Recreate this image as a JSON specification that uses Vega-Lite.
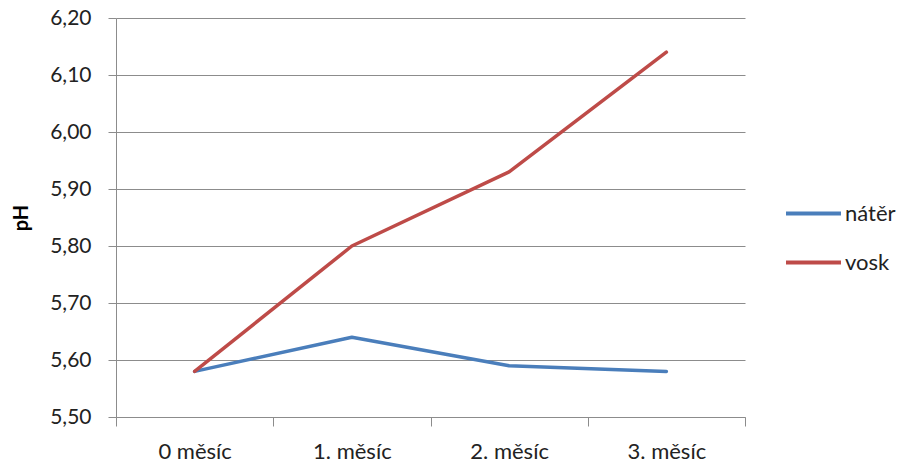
{
  "$schema": "https://vega.github.io/schema/vega-lite/v6.json",
  "width": 629,
  "height": 399,
  "autosize": {"type": "none"},
  "padding": {"left": 116, "top": 18, "right": 160, "bottom": 48},
  "background": "white",
  "config": {
    "view": {"stroke": null},
    "font": "Lato",
    "axis": {"labelFont": "Lato", "titleFont": "Lato", "labelColor": "#222222", "titleColor": "#000000"}
  },
  "data": {
    "values": [
      {"mesic": "0 měsíc", "serie": "nátěr", "pH": 5.58},
      {"mesic": "1. měsíc", "serie": "nátěr", "pH": 5.64},
      {"mesic": "2. měsíc", "serie": "nátěr", "pH": 5.59},
      {"mesic": "3. měsíc", "serie": "nátěr", "pH": 5.58},
      {"mesic": "0 měsíc", "serie": "vosk", "pH": 5.58},
      {"mesic": "1. měsíc", "serie": "vosk", "pH": 5.80},
      {"mesic": "2. měsíc", "serie": "vosk", "pH": 5.93},
      {"mesic": "3. měsíc", "serie": "vosk", "pH": 6.14}
    ]
  },
  "mark": {"type": "line", "strokeWidth": 3.5, "strokeCap": "round", "strokeJoin": "round"},
  "encoding": {
    "x": {
      "field": "mesic",
      "type": "nominal",
      "sort": null,
      "scale": {"paddingInner": 0, "paddingOuter": 0},
      "axis": {
        "title": null,
        "labelAngle": 0,
        "labelFontSize": 22,
        "labelPadding": 15,
        "tickBand": "extent",
        "tickSize": 9,
        "tickColor": "#8c8c8c",
        "domainColor": "#8c8c8c",
        "grid": false
      }
    },
    "y": {
      "field": "pH",
      "type": "quantitative",
      "scale": {"domain": [5.5, 6.2], "nice": false, "zero": false},
      "axis": {
        "title": "pH",
        "titleFontSize": 20,
        "titleFontWeight": "bold",
        "titlePadding": 18,
        "values": [5.5, 5.6, 5.7, 5.8, 5.9, 6.0, 6.1, 6.2],
        "labelExpr": "replace(format(datum.value, '.2f'), '.', ',')",
        "labelFontSize": 21,
        "labelPadding": 17,
        "tickSize": 8,
        "tickColor": "#8c8c8c",
        "domainColor": "#8c8c8c",
        "gridColor": "#8c8c8c",
        "gridWidth": 1
      }
    },
    "color": {
      "field": "serie",
      "type": "nominal",
      "scale": {"domain": ["nátěr", "vosk"], "range": ["#4a7ebb", "#be4b48"]},
      "legend": {
        "title": null,
        "orient": "none",
        "legendX": 668,
        "legendY": 166,
        "symbolType": "stroke",
        "symbolSize": 3025,
        "symbolStrokeWidth": 4,
        "labelFontSize": 22,
        "labelColor": "#222222",
        "labelOffset": 2,
        "rowPadding": 8,
        "symbolOffset": 0
      }
    }
  }
}
